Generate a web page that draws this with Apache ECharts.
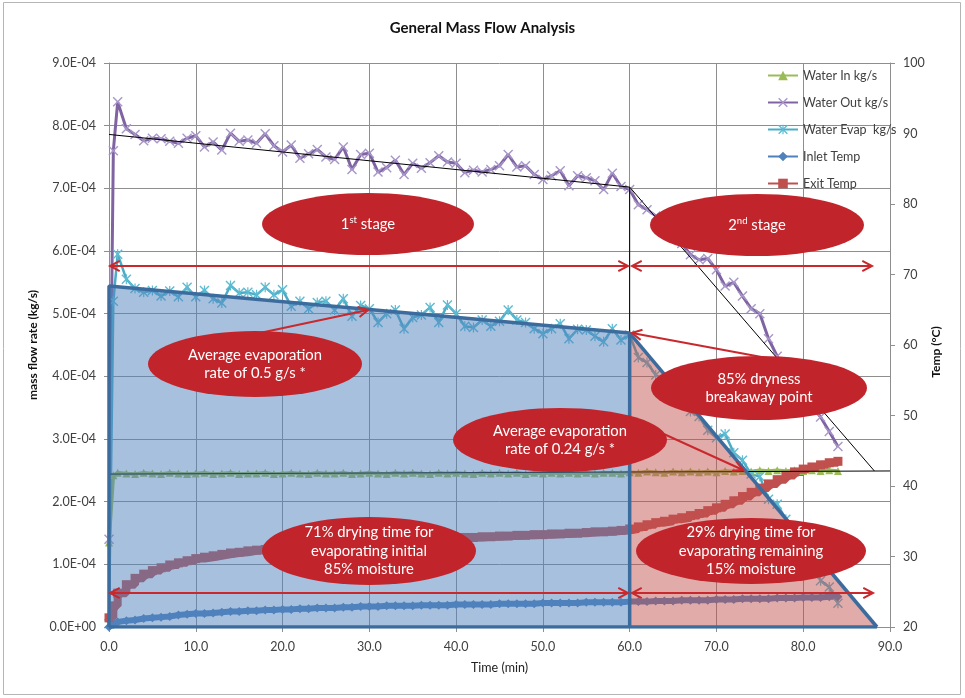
<!DOCTYPE html>
<html>
<head>
<meta charset="utf-8">
<script src="https://cdn.jsdelivr.net/npm/echarts@6/dist/echarts.min.js"></script>
<style>
  html, body { margin: 0; padding: 0; background: #fff; }
  #chart { width: 965px; height: 698px; }
</style>
</head>
<body>
<div id="chart"></div>
<script>
// Sample times (min)
const timeMin = [0, 0.5,
  1, 2, 3, 4, 5, 6, 7, 8, 9, 10,
  11, 12, 13, 14, 15, 16, 17, 18, 19, 20,
  21, 22, 23, 24, 25, 26, 27, 28, 29, 30,
  31, 32, 33, 34, 35, 36, 37, 38, 39, 40,
  41, 42, 43, 44, 45, 46, 47, 48, 49, 50,
  51, 52, 53, 54, 55, 56, 57, 58, 59, 60,
  61, 62, 63, 64, 65, 66, 67, 68, 69, 70,
  71, 72, 73, 74, 75, 76, 77, 78, 79, 80,
  81, 82, 83, 84];

// Water in (kg/s)
const waterIn = [1.35e-4, 2.42e-4,
  2.46e-4, 2.45e-4, 2.44e-4, 2.46e-4, 2.45e-4, 2.44e-4, 2.46e-4, 2.45e-4, 2.44e-4, 2.45e-4,
  2.46e-4, 2.44e-4, 2.45e-4, 2.46e-4, 2.44e-4, 2.45e-4, 2.45e-4, 2.46e-4, 2.44e-4, 2.45e-4,
  2.46e-4, 2.45e-4, 2.44e-4, 2.46e-4, 2.45e-4, 2.45e-4, 2.46e-4, 2.44e-4, 2.45e-4, 2.46e-4,
  2.45e-4, 2.44e-4, 2.46e-4, 2.45e-4, 2.46e-4, 2.45e-4, 2.44e-4, 2.46e-4, 2.45e-4, 2.46e-4,
  2.45e-4, 2.44e-4, 2.46e-4, 2.45e-4, 2.46e-4, 2.45e-4, 2.46e-4, 2.44e-4, 2.46e-4, 2.45e-4,
  2.46e-4, 2.45e-4, 2.46e-4, 2.45e-4, 2.46e-4, 2.45e-4, 2.46e-4, 2.46e-4, 2.45e-4, 2.47e-4,
  2.46e-4, 2.48e-4, 2.47e-4, 2.46e-4, 2.48e-4, 2.47e-4, 2.48e-4, 2.47e-4, 2.48e-4, 2.47e-4,
  2.49e-4, 2.48e-4, 2.49e-4, 2.48e-4, 2.50e-4, 2.49e-4, 2.50e-4, 2.49e-4, 2.50e-4, 2.49e-4,
  2.50e-4, 2.49e-4, 2.50e-4, 2.49e-4];

// Water out (kg/s)
const waterOut = [1.40e-4, 7.60e-4,
  8.38e-4, 7.95e-4, 7.86e-4, 7.76e-4, 7.80e-4, 7.79e-4, 7.75e-4, 7.72e-4, 7.80e-4, 7.84e-4,
  7.66e-4, 7.74e-4, 7.61e-4, 7.88e-4, 7.75e-4, 7.77e-4, 7.72e-4, 7.87e-4, 7.68e-4, 7.58e-4,
  7.69e-4, 7.48e-4, 7.55e-4, 7.62e-4, 7.50e-4, 7.46e-4, 7.66e-4, 7.30e-4, 7.54e-4, 7.56e-4,
  7.26e-4, 7.33e-4, 7.45e-4, 7.22e-4, 7.40e-4, 7.32e-4, 7.41e-4, 7.52e-4, 7.42e-4, 7.40e-4,
  7.25e-4, 7.29e-4, 7.26e-4, 7.30e-4, 7.36e-4, 7.54e-4, 7.34e-4, 7.36e-4, 7.22e-4, 7.14e-4,
  7.20e-4, 7.28e-4, 7.04e-4, 7.20e-4, 7.17e-4, 7.12e-4, 6.98e-4, 7.24e-4, 7.03e-4, 6.98e-4,
  6.74e-4, 6.66e-4, 6.56e-4, 6.42e-4, 6.25e-4, 6.12e-4, 5.94e-4, 5.86e-4, 5.88e-4, 5.70e-4,
  5.44e-4, 5.50e-4, 5.28e-4, 5.08e-4, 5.00e-4, 4.60e-4, 4.32e-4, 4.10e-4, 3.98e-4, 3.78e-4,
  3.52e-4, 3.35e-4, 3.12e-4, 2.88e-4];

// Water evaporated (kg/s)
const waterEvap = [0.05e-4, 5.20e-4,
  5.95e-4, 5.55e-4, 5.40e-4, 5.34e-4, 5.37e-4, 5.28e-4, 5.36e-4, 5.27e-4, 5.42e-4, 5.27e-4,
  5.37e-4, 5.24e-4, 5.17e-4, 5.45e-4, 5.33e-4, 5.34e-4, 5.30e-4, 5.42e-4, 5.30e-4, 5.38e-4,
  5.12e-4, 5.20e-4, 5.08e-4, 5.18e-4, 5.20e-4, 5.06e-4, 5.24e-4, 4.96e-4, 5.13e-4, 5.08e-4,
  4.86e-4, 5.00e-4, 5.06e-4, 4.76e-4, 4.94e-4, 4.98e-4, 5.10e-4, 4.86e-4, 5.14e-4, 5.00e-4,
  4.80e-4, 4.78e-4, 4.90e-4, 4.80e-4, 4.88e-4, 5.06e-4, 4.90e-4, 4.86e-4, 4.76e-4, 4.68e-4,
  4.76e-4, 4.84e-4, 4.60e-4, 4.75e-4, 4.74e-4, 4.64e-4, 4.55e-4, 4.76e-4, 4.58e-4, 4.66e-4,
  4.30e-4, 4.22e-4, 4.02e-4, 3.95e-4, 3.72e-4, 3.66e-4, 3.44e-4, 3.36e-4, 3.14e-4, 3.02e-4,
  3.08e-4, 2.78e-4, 2.66e-4, 2.44e-4, 2.40e-4, 2.04e-4, 1.96e-4, 1.72e-4, 1.60e-4, 1.26e-4,
  1.10e-4, 0.74e-4, 0.64e-4, 0.38e-4];

// Inlet air temperature (°C)
const inletTemp = [20.0, 20.4,
  20.7, 20.9, 21.0, 21.2, 21.3, 21.4, 21.5, 21.7, 21.8, 21.9,
  21.9, 22.0, 22.1, 22.2, 22.2, 22.3, 22.3, 22.4, 22.4, 22.5,
  22.5, 22.6, 22.6, 22.7, 22.7, 22.7, 22.8, 22.8, 22.9, 22.9,
  22.9, 23.0, 23.0, 23.0, 23.0, 23.1, 23.1, 23.1, 23.1, 23.2,
  23.2, 23.2, 23.2, 23.2, 23.3, 23.3, 23.3, 23.3, 23.3, 23.4,
  23.4, 23.4, 23.4, 23.4, 23.5, 23.5, 23.5, 23.5, 23.5, 23.6,
  23.6, 23.6, 23.7, 23.7, 23.7, 23.8, 23.8, 23.8, 23.8, 23.9,
  23.9, 23.9, 24.0, 24.0, 24.0, 24.0, 24.1, 24.1, 24.1, 24.2,
  24.2, 24.2, 24.3, 24.3];

// Exit air temperature (°C)
const exitTemp = [21.3, 23.0,
  24.8, 26.0, 26.9, 27.5, 28.0, 28.4, 28.8, 29.1, 29.4, 29.7,
  29.9, 30.1, 30.3, 30.5, 30.6, 30.8, 30.9, 31.0, 31.1, 31.2,
  31.3, 31.3, 31.4, 31.5, 31.6, 31.6, 31.7, 31.8, 31.8, 31.9,
  32.0, 32.0, 32.1, 32.2, 32.2, 32.3, 32.4, 32.5, 32.5, 32.6,
  32.7, 32.7, 32.8, 32.8, 32.9, 32.9, 33.0, 33.0, 33.1, 33.1,
  33.2, 33.2, 33.3, 33.3, 33.4, 33.5, 33.5, 33.6, 33.7, 33.9,
  34.2, 34.5, 34.8, 35.0, 35.3, 35.5, 35.8, 36.1, 36.5, 36.9,
  37.4, 37.9, 38.5, 39.1, 39.7, 40.3, 40.9, 41.5, 42.0, 42.4,
  42.7, 43.0, 43.3, 43.5];

// Drying stages: first stage (constant rate) and second stage (falling rate)
const stage1Time = [0, 0, 60, 60];
const stage1Rate = [0, 5.44e-4, 4.69e-4, 0];
const stage2Time = [60, 88.5];
const stage2Rate = [4.69e-4, 0];
const stageBaseTime = [0, 88.5];
const stageBaseRate = [0, 0];

// Trend lines
const outTrendTime = [0, 60, 88.2];
const outTrendRate = [7.86e-4, 7.02e-4, 2.49e-4];
const breakTime = [60, 60];
const breakRate = [7.02e-4, 4.69e-4];
const inTrendTime = [0, 90];
const inTrendRate = [2.44e-4, 2.49e-4];
const evapTrendTime = [0, 60];
const evapTrendRate = [5.44e-4, 4.69e-4];

function pairs(xs, ys) { return xs.map((x, i) => [x, ys[i]]); }

function sciLabel(v) {
  const parts = Number(v).toExponential(1).split('e');
  const n = parseInt(parts[1], 10);
  return parts[0] + 'E' + (n < 0 ? '-' : '+') + String(Math.abs(n)).padStart(2, '0');
}

const FONT = 'Lato, "Open Sans", sans-serif';
const TXT = '#404040';
const GRID_LINE = '#8e8e8e';
const OUTLINE = '#3C6C9E';

const xMark = 'path://M0,1 L1,0 L5,4 L9,0 L10,1 L6,5 L10,9 L9,10 L5,6 L1,10 L0,9 L4,5 Z';
const starMark = 'path://M0,1 L1,0 L5,4 L9,0 L10,1 L6,5 L10,9 L9,10 L5,6 L1,10 L0,9 L4,5 Z M4.4,0 L5.6,0 L5.6,10 L4.4,10 Z';

const chart = echarts.init(document.getElementById('chart'), null, { renderer: 'canvas' });

const trendStyle = { color: '#000', width: 1 };

const option = {
  animation: false,
  backgroundColor: '#fff',
  textStyle: { fontFamily: FONT },
  title: {
    text: 'General Mass Flow Analysis',
    left: 'center',
    top: 16,
    textStyle: { fontFamily: FONT, fontSize: 15, fontWeight: 'bold', color: '#111' }
  },
  grid: { left: 109, right: 75, top: 63, bottom: 71, outerBoundsMode: 'none' },
  legend: {
    orient: 'vertical',
    left: 762,
    top: 64,
    itemWidth: 30,
    itemHeight: 12,
    itemGap: 14,
    data: ['Water In kg/s', 'Water Out kg/s', 'Water Evap  kg/s', 'Inlet Temp', 'Exit Temp'],
    textStyle: { fontFamily: FONT, fontSize: 12.5, color: TXT }
  },
  xAxis: {
    type: 'value', min: 0, max: 90, interval: 10,
    name: 'Time (min)', nameLocation: 'middle', nameGap: 34, nameMoveOverlap: false,
    nameTextStyle: { fontFamily: FONT, fontSize: 12.5, color: '#222' },
    axisLine: { show: true, onZero: false, lineStyle: { color: GRID_LINE } },
    axisTick: { show: true, inside: false, length: 5, lineStyle: { color: GRID_LINE } },
    axisLabel: { margin: 13, fontFamily: FONT, fontSize: 12.5, color: TXT, formatter: v => v.toFixed(1) },
    splitLine: { show: true, lineStyle: { color: GRID_LINE, width: 1 } }
  },
  yAxis: [
    {
      type: 'value', min: 0, max: 9e-4, interval: 1e-4, position: 'left',
      name: 'mass flow rate (kg/s)', nameLocation: 'middle', nameGap: 70, nameMoveOverlap: false,
      nameTextStyle: { fontFamily: FONT, fontSize: 12, fontWeight: 'bold', color: '#111' },
      axisLine: { show: true, lineStyle: { color: GRID_LINE } },
      axisTick: { show: true, length: 5, lineStyle: { color: GRID_LINE } },
      axisLabel: { margin: 13, fontFamily: FONT, fontSize: 12.5, color: TXT, formatter: sciLabel },
      splitLine: { show: true, lineStyle: { color: GRID_LINE, width: 1 } }
    },
    {
      type: 'value', min: 20, max: 100, interval: 10, position: 'right',
      name: 'Temp (°C)', nameLocation: 'middle', nameGap: 40, nameMoveOverlap: false,
      nameTextStyle: { fontFamily: FONT, fontSize: 12, fontWeight: 'bold', color: '#111', padding: [0, 14, 0, 0] },
      axisLine: { show: true, lineStyle: { color: GRID_LINE } },
      axisTick: { show: true, length: 5, lineStyle: { color: GRID_LINE } },
      axisLabel: { margin: 13, fontFamily: FONT, fontSize: 12.5, color: TXT },
      splitLine: { show: false }
    }
  ],
  series: [
    {
      name: 'Water In kg/s', type: 'line', yAxisIndex: 0, z: 2,
      data: pairs(timeMin, waterIn),
      symbol: 'triangle', symbolSize: 8, showAllSymbol: true,
      itemStyle: { color: '#9BBB59' },
      lineStyle: { color: '#9BBB59', width: 3.5 }
    },
    {
      name: 'Water Out kg/s', type: 'line', yAxisIndex: 0, z: 2,
      data: pairs(timeMin, waterOut),
      symbol: xMark, symbolSize: 10, showAllSymbol: true,
      itemStyle: { color: '#A797C9' },
      lineStyle: { color: '#8064A2', width: 3 }
    },
    {
      name: 'Water Evap  kg/s', type: 'line', yAxisIndex: 0, z: 2,
      data: pairs(timeMin, waterEvap),
      symbol: starMark, symbolSize: 10, showAllSymbol: true,
      itemStyle: { color: '#5DBBD2' },
      lineStyle: { color: '#4BACC6', width: 2.5 }
    },
    {
      name: 'Inlet Temp', type: 'line', yAxisIndex: 1, z: 2,
      data: pairs(timeMin, inletTemp),
      symbol: 'diamond', symbolSize: 9, showAllSymbol: true,
      itemStyle: { color: '#4F81BD' },
      lineStyle: { color: '#4F81BD', width: 6 }
    },
    {
      name: 'Exit Temp', type: 'line', yAxisIndex: 1, z: 2, step: 'end',
      data: pairs(timeMin, exitTemp),
      symbol: 'rect', symbolSize: 9, showAllSymbol: true,
      itemStyle: { color: '#C0504D' },
      lineStyle: { color: '#C0504D', width: 8 }
    },
    // trend lines
    { type: 'line', yAxisIndex: 0, z: 3, silent: true, symbol: 'none', data: pairs(outTrendTime, outTrendRate), lineStyle: trendStyle },
    { type: 'line', yAxisIndex: 0, z: 3, silent: true, symbol: 'none', data: pairs(breakTime, breakRate), lineStyle: trendStyle },
    { type: 'line', yAxisIndex: 0, z: 3, silent: true, symbol: 'none', data: pairs(inTrendTime, inTrendRate), lineStyle: trendStyle },
    { type: 'line', yAxisIndex: 0, z: 3, silent: true, symbol: 'none', data: pairs(evapTrendTime, evapTrendRate), lineStyle: trendStyle },
    // drying stage regions
    {
      type: 'line', yAxisIndex: 0, z: 5, silent: true, symbol: 'none',
      data: pairs(stage1Time, stage1Rate),
      lineStyle: { color: OUTLINE, width: 3.5 },
      areaStyle: { color: 'rgba(79,129,189,0.5)', opacity: 1, origin: 'start' }
    },
    {
      type: 'line', yAxisIndex: 0, z: 5, silent: true, symbol: 'none',
      data: pairs(stage2Time, stage2Rate),
      lineStyle: { color: OUTLINE, width: 3.5 },
      areaStyle: { color: 'rgba(192,80,77,0.48)', opacity: 1, origin: 'start' }
    },
    {
      type: 'line', yAxisIndex: 0, z: 6, silent: true, symbol: 'none',
      data: pairs(stageBaseTime, stageBaseRate),
      lineStyle: { color: OUTLINE, width: 3.5 }
    }
  ]
};

// Annotation callouts (pixel positions on the canvas)
const RED = '#C1252B';
const ARROW = '#C9282D';
const callouts = [
  { cx: 368, cy: 224, rx: 106, ry: 31, text: '1{sup|st} stage' },
  { cx: 757, cy: 225, rx: 107, ry: 31, text: '2{sup|nd} stage' },
  { cx: 255, cy: 364, rx: 107, ry: 33, text: 'Average evaporation\nrate of 0.5 g/s *' },
  { cx: 759, cy: 388, rx: 108, ry: 32, text: '85% dryness\nbreakaway point' },
  { cx: 560, cy: 440, rx: 107, ry: 32, text: 'Average evaporation\nrate of 0.24 g/s *' },
  { cx: 369, cy: 551, rx: 107, ry: 34, text: '71% drying time for\nevaporating initial\n85% moisture' },
  { cx: 751, cy: 551, rx: 115, ry: 33, text: '29% drying time for\nevaporating remaining\n15% moisture' }
];
const arrows = [
  [110, 266, 628, 266, true, true],
  [632, 266, 872, 266, true, true],
  [110, 593, 628, 593, true, true],
  [632, 593, 873, 593, true, true],
  [255, 334, 368, 310, false, true],
  [767, 358, 632, 333, false, true],
  [655, 430, 743, 470, false, true]
];

function chevron(tx, ty, fx, fy) {
  const dx = tx - fx, dy = ty - fy;
  const L = Math.hypot(dx, dy);
  const ux = -dx / L, uy = -dy / L;
  const a = 28 * Math.PI / 180, len = 11;
  const r = s => [tx + len * (ux * Math.cos(s * a) - uy * Math.sin(s * a)),
                  ty + len * (ux * Math.sin(s * a) + uy * Math.cos(s * a))];
  return {
    type: 'polyline', silent: true, z: 100,
    shape: { points: [r(1), [tx, ty], r(-1)] },
    style: { stroke: ARROW, lineWidth: 2, fill: null }
  };
}

const graphics = [
  { type: 'rect', silent: true, z: 90, shape: { x: 3.5, y: 2.5, width: 957, height: 692 },
    style: { fill: null, stroke: '#b5b5b5', lineWidth: 1 } }
];
arrows.forEach(([x1, y1, x2, y2, h1, h2]) => {
  graphics.push({ type: 'line', silent: true, z: 100, shape: { x1, y1, x2, y2 }, style: { stroke: ARROW, lineWidth: 2 } });
  if (h1) graphics.push(chevron(x1, y1, x2, y2));
  if (h2) graphics.push(chevron(x2, y2, x1, y1));
});
callouts.forEach(c => {
  graphics.push({
    type: 'circle', silent: true, z: 110,
    x: c.cx, y: c.cy, scaleX: c.rx / c.ry,
    shape: { cx: 0, cy: 0, r: c.ry },
    style: { fill: RED }
  });
  graphics.push({
    type: 'text', silent: true, z: 111,
    x: c.cx, y: c.cy,
    style: {
      text: c.text, fill: '#fff', fontFamily: FONT, fontSize: 14.8, lineHeight: 18.5,
      align: 'center', verticalAlign: 'middle',
      rich: { sup: { fill: '#fff', fontFamily: FONT, fontSize: 9.5, lineHeight: 8, verticalAlign: 'top' } }
    }
  });
});
option.graphic = { elements: graphics };

chart.setOption(option);
</script>
</body>
</html>
